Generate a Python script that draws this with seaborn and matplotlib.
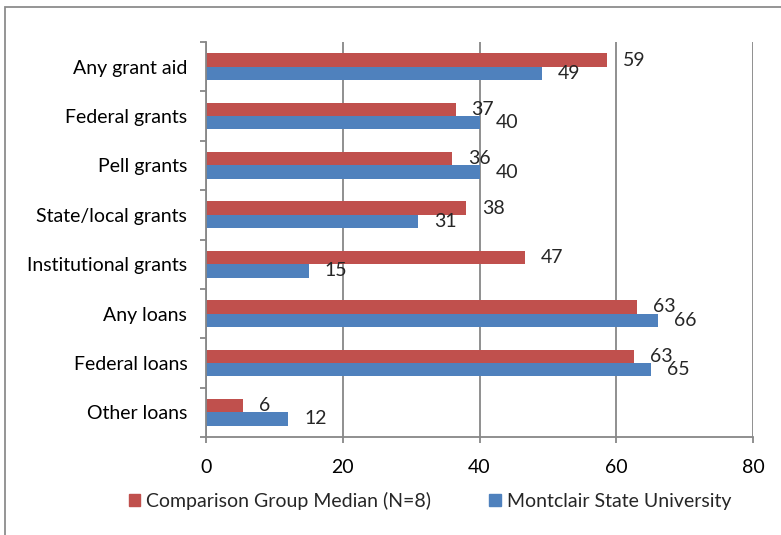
import numpy as np
import pandas as pd
import matplotlib
matplotlib.use('Agg')
import matplotlib.pyplot as plt
import seaborn as sns

# data
categories = ['Any grant aid', 'Federal grants', 'Pell grants', 'State/local grants',
              'Institutional grants', 'Any loans', 'Federal loans', 'Other loans']
series_names = ['Comparison Group Median (N=8)', 'Montclair State University']
comparison_vals = [58.6, 36.5, 36.0, 38.0, 46.6, 63.1, 62.6, 5.4]
montclair_vals = [49.1, 40.1, 40.1, 31.0, 15.0, 66.1, 65.1, 12.0]
comparison_labels = ['59', '37', '36', '38', '47', '63', '63', '6']
montclair_labels = ['49', '40', '40', '31', '15', '66', '65', '12']
x_ticks = [0, 20, 40, 60, 80]

RED = '#C0504D'
BLUE = '#4F81BD'
GRID = '#878787'
FS = 14

df = pd.DataFrame({
    'category': categories * 2,
    'value': comparison_vals + montclair_vals,
    'series': [series_names[0]] * len(categories) + [series_names[1]] * len(categories),
})

sns.set_theme(style='white')
plt.rcParams['font.family'] = ['Lato', 'DejaVu Sans']
plt.rcParams['font.size'] = FS

fig = plt.figure(figsize=(7.81, 5.35), dpi=100)
ax = fig.add_axes([206 / 781, 1 - 437 / 535, (753 - 206) / 781, (437 - 42) / 535])

sns.barplot(data=df, y='category', x='value', hue='series', orient='h',
            hue_order=series_names, palette=[RED, BLUE], saturation=1, width=0.54,
            linewidth=0, ax=ax, legend=False)

# value labels
ax.bar_label(ax.containers[0], labels=comparison_labels, padding=11.5, fontsize=FS)
ax.bar_label(ax.containers[1], labels=montclair_labels, padding=11.5, fontsize=FS)

# axes styling
ax.set_xlim(0, 80)
ax.set_xticks(x_ticks)
ax.set_xlabel('')
ax.set_ylabel('')
ax.xaxis.grid(True, color=GRID, lw=1.3)
ax.set_axisbelow(True)
for side in ['top', 'right']:
    ax.spines[side].set_visible(False)
for side in ['left', 'bottom']:
    ax.spines[side].set_color(GRID)
    ax.spines[side].set_linewidth(1.3)

ax.set_yticks(np.arange(-0.5, len(categories), 1), minor=True)
ax.tick_params(axis='y', which='major', length=0, pad=13.5, labelsize=FS, labelcolor='black')
ax.tick_params(axis='y', which='minor', length=4.5, width=1.3, color=GRID, left=True)
ax.tick_params(axis='x', which='major', length=4, width=1.3, color=GRID, bottom=True,
               pad=12, labelsize=FS, labelcolor='black')

# legend below the axis
handles = [plt.Rectangle((0, 0), 1, 1, color=RED), plt.Rectangle((0, 0), 1, 1, color=BLUE)]
fig.legend(handles, series_names, loc='center', bbox_to_anchor=(430 / 781, 1 - 501 / 535),
           ncol=2, frameon=False, fontsize=FS, handlelength=0.6, handleheight=0.6,
           handletextpad=0.3, columnspacing=3.0)

# outer chart border
fig.add_artist(plt.Rectangle((5 / 781, -0.5), 1.5, 0.5 + 1 - 7 / 535, transform=fig.transFigure,
                             fill=False, ec='#8c8c8c', lw=1.3))

fig.savefig('out.png', dpi=100)
